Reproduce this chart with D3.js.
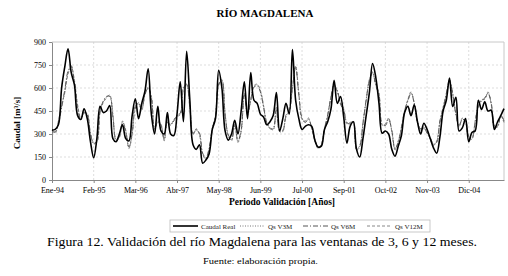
<!DOCTYPE html>
<html>
<head>
<meta charset="utf-8">
<script src="https://cdn.jsdelivr.net/npm/d3@7"></script>
<style>
  body { margin: 0; background: #fff; }
  text { font-family: "Liberation Serif", "Times New Roman", serif; }
</style>
</head>
<body>
<svg id="chart"></svg>
<script>
// monthly flows, Ene-94 onwards
const caudalReal = [325,330,360,600,740,855,700,620,420,395, 465,400,250,145,270,480,440,450,485,270,
  250,300,360,270,255,420,530,400,500,580, 725,430,300,480,320,300,440,300,290,430,
  640,380,840,520,230,200,230,110,130,170, 330,400,715,600,320,260,300,390,300,450,
  640,400,700,520,500,430,410,360,380,420, 570,320,400,500,430,850,520,400,330,350,
  360,350,260,215,220,330,380,460,650,500, 545,410,240,350,380,200,150,270,420,570,
  760,670,500,305,320,300,200,155,220,290, 440,480,420,490,380,300,370,330,270,210,
  175,280,450,520,665,480,540,320,340,400, 250,310,320,520,460,510,450,455,330,380,
  420,465];
const qsV3M = [320,310,380,480,580,700,740,640,480,400, 440,430,300,240,250,450,510,540,550,420,
  260,280,380,320,210,300,480,500,460,560, 600,540,330,380,360,260,380,360,390,420,
  430,600,620,480,300,330,300,170,140,200, 330,420,620,650,430,290,260,360,250,320,
  560,430,520,610,620,580,480,370,340,330, 470,320,320,420,450,600,740,560,400,380,
  400,340,260,210,230,330,420,540,620,580, 500,460,370,370,380,200,220,370,520,650,
  700,620,560,360,360,400,320,200,250,340, 450,520,570,500,380,330,340,310,270,230,
  250,380,470,560,650,560,430,350,400,380, 280,270,380,480,520,530,570,500,350,350,
  420,380];
const qsV6M = [315,315,370,470,590,710,745,630,470,395, 445,425,305,235,255,445,515,545,545,410,
  265,285,375,315,215,305,470,505,465,555, 605,535,335,375,355,265,375,365,385,425,
  435,590,625,470,305,325,305,175,145,205, 335,415,625,645,425,295,265,355,255,325,
  555,425,525,605,615,575,475,375,335,335, 465,325,325,415,455,605,735,555,405,375,
  395,345,265,215,225,335,425,535,615,585, 495,455,375,365,375,205,225,365,525,645,
  705,615,555,365,355,395,325,205,245,345, 455,515,565,505,375,335,345,305,275,235,
  245,385,465,565,645,565,425,355,395,385, 285,275,375,485,515,535,565,505,355,345,
  425,385];
const qsV12M = [325,305,385,490,570,690,735,650,490,405, 435,435,295,245,245,455,505,535,555,425,
  255,275,385,325,205,295,485,495,455,565, 595,545,325,385,365,255,385,355,395,415,
  425,605,615,485,295,335,295,165,135,195, 325,425,615,655,435,285,255,365,245,315,
  565,435,515,615,625,585,485,365,345,325, 475,315,315,425,445,595,745,565,395,385,
  405,335,255,205,235,325,415,545,625,575, 505,465,365,375,385,195,215,375,515,655,
  695,625,565,355,365,405,315,195,255,335, 445,525,575,495,385,325,335,315,265,225,
  255,375,475,555,655,555,435,345,405,375, 275,265,385,475,525,525,575,495,345,355,
  415,375];

const xTickLabels = ['Ene-94','Feb-95','Mar-96','Abr-97','May-98','Jun-99','Jul-00','Sep-01','Oct-02','Nov-03','Dic-04'];
const labelStep = 13; // one label every 13 categories
const yTicks = [0,150,300,450,600,750,900];

const series = [
    {name: 'Caudal Real', values: caudalReal, color: '#000', width: 1.6, dash: null},
    {name: 'Qs V3M', values: qsV3M, color: '#777', width: 1, dash: '1,1.5'},
    {name: 'Qs V6M', values: qsV6M, color: '#555', width: 1, dash: '5,2,1,2'},
    {name: 'Qs V12M', values: qsV12M, color: '#888', width: 1, dash: '3,2'}
];

const W = 508, H = 276;
const margin = {top: 42, right: 4, bottom: 96, left: 52};
const iw = W - margin.left - margin.right;
const ih = H - margin.top - margin.bottom;

const svg = d3.select('#chart').attr('width', W).attr('height', H);

const chart = svg.append('g')
    .attr('transform', `translate(${margin.left}, ${margin.top})`);

const xscale = d3.scaleLinear()
    .domain([0, caudalReal.length - 1])
    .range([0, iw]);

const yscale = d3.scaleLinear()
    .domain([0, 900])
    .range([ih, 0]);

// grid
chart.append('g')
    .selectAll('line')
    .data(yTicks.slice(1, -1))
    .join('line')
    .attr('x1', 0).attr('x2', iw)
    .attr('y1', d => yscale(d)).attr('y2', d => yscale(d))
    .attr('stroke', '#ddd')
    .attr('stroke-dasharray', '2,2');

chart.append('g')
    .selectAll('line')
    .data(xTickLabels.slice(1).map((d, i) => (i + 1) * labelStep))
    .join('line')
    .attr('x1', d => xscale(d)).attr('x2', d => xscale(d))
    .attr('y1', 0).attr('y2', ih)
    .attr('stroke', '#ddd')
    .attr('stroke-dasharray', '2,2');

// plot border (top + right)
chart.append('path')
    .attr('d', `M0,0H${iw}V${ih}`)
    .attr('fill', 'none')
    .attr('stroke', '#c8c8c8');

const xaxis = d3.axisBottom(xscale)
    .tickValues(xTickLabels.map((d, i) => i * labelStep))
    .tickFormat((d, i) => xTickLabels[i])
    .tickSize(3)
    .tickSizeOuter(0);

const yaxis = d3.axisLeft(yscale)
    .tickValues(yTicks)
    .tickSize(3)
    .tickSizeOuter(0);

const xg = chart.append('g')
    .attr('transform', `translate(0, ${ih})`)
    .call(xaxis);
const yg = chart.append('g').call(yaxis);

[xg, yg].forEach(g => {
    g.selectAll('path, line').attr('stroke', '#888');
    g.selectAll('text')
        .style('font-family', '"Liberation Serif", serif')
        .style('font-size', '8px')
        .attr('fill', '#000');
});
xg.selectAll('text').attr('dy', '0.9em');
yg.selectAll('text').attr('x', -6);

// lines
const line = d3.line()
    .x((d, i) => xscale(i))
    .y(d => yscale(d))
    .curve(d3.curveCatmullRom);

series.slice().reverse().forEach(s => {
    chart.append('path')
        .datum(s.values)
        .attr('fill', 'none')
        .attr('stroke', s.color)
        .attr('stroke-width', s.width)
        .attr('stroke-dasharray', s.dash)
        .attr('d', line);
});

// titles
svg.append('text')
    .attr('x', 265).attr('y', 17)
    .attr('text-anchor', 'middle')
    .style('font-size', '11px')
    .style('font-weight', 'bold')
    .text('RÍO MAGDALENA');

svg.append('text')
    .attr('transform', 'rotate(-90)')
    .attr('x', -123).attr('y', 20)
    .attr('text-anchor', 'middle')
    .style('font-size', '9px')
    .style('font-weight', 'bold')
    .text('Caudal [m³/s]');

svg.append('text')
    .attr('x', 282).attr('y', 205)
    .attr('text-anchor', 'middle')
    .style('font-size', '9.5px')
    .style('font-weight', 'bold')
    .text('Periodo Validación [Años]');

// legend
const legend = svg.append('g').attr('transform', 'translate(170, 220)');
legend.append('rect')
    .attr('width', 260).attr('height', 12)
    .attr('fill', '#fff')
    .attr('stroke', '#bbb')
    .attr('stroke-width', 0.8);

const legendPos = [3, 70, 133, 197];
series.forEach((s, i) => {
    const g = legend.append('g').attr('transform', `translate(${legendPos[i]}, 6)`);
    g.append('line')
        .attr('x1', 0).attr('x2', 25)
        .attr('stroke', s.color)
        .attr('stroke-width', s.width)
        .attr('stroke-dasharray', s.dash);
    g.append('text')
        .attr('x', 28).attr('y', 2.5)
        .style('font-size', '7px')
        .attr('fill', '#222')
        .text(s.name);
});

// caption
svg.append('text')
    .attr('x', 47).attr('y', 246)
    .attr('textLength', 430)
    .attr('lengthAdjust', 'spacingAndGlyphs')
    .style('font-size', '12.5px')
    .text('Figura 12. Validación del río Magdalena para las ventanas de 3, 6 y 12 meses.');

svg.append('text')
    .attr('x', 203).attr('y', 264)
    .attr('textLength', 115)
    .attr('lengthAdjust', 'spacingAndGlyphs')
    .style('font-size', '9px')
    .text('Fuente: elaboración propia.');
</script>
</body>
</html>
